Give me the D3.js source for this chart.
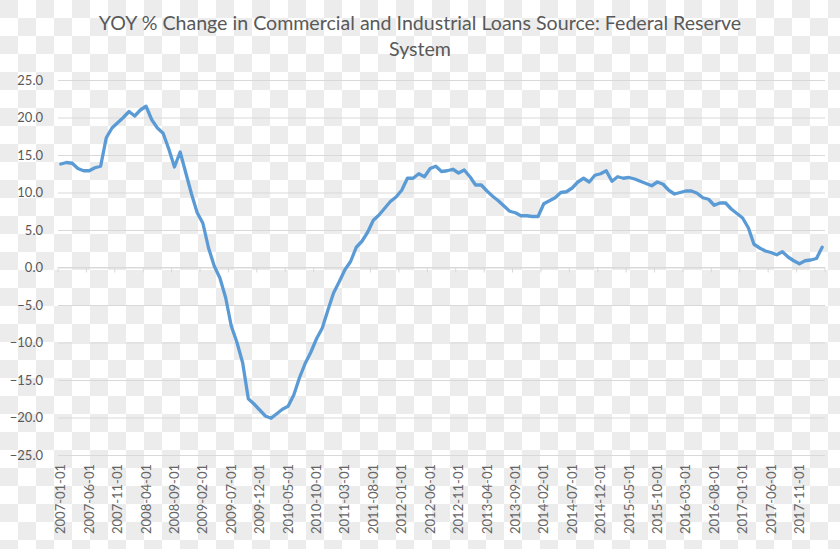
<!DOCTYPE html>
<html>
<head>
<meta charset="utf-8">
<script src="https://cdn.jsdelivr.net/npm/d3@7"></script>
<style>
  html, body { margin: 0; padding: 0; }
  body {
    width: 840px; height: 549px; overflow: hidden;
    background-color: #ffffff;
    background-image:
      linear-gradient(45deg, #ececec 25%, transparent 25%, transparent 75%, #ececec 75%),
      linear-gradient(45deg, #ececec 25%, transparent 25%, transparent 75%, #ececec 75%);
    background-size: 36px 36px;
    background-position: 18px 0, 0 18px;
  }
  svg { display: block; }
</style>
</head>
<body>
<div id="chart"></div>
<script>
// Chart text
const titleLines = ["YOY % Change in Commercial and Industrial Loans Source: Federal Reserve", "System"];

// Monthly categories, 2007-01 .. 2018-03
const firstMonth = "2007-01-01";
const lastMonth = "2018-03-01";

// YOY % change, one value per month
const loanGrowth = [
  13.8, 14.0, 13.9, 13.2, 12.9, 12.9, 13.3, 13.5, 17.3, 18.6, 19.3, 20.0,
  20.8, 20.2, 21.0, 21.5, 19.7, 18.6, 17.9, 15.8, 13.4, 15.4, 12.6, 9.8,
  7.3, 5.9, 2.6, 0.2, -1.4, -4.0, -7.8, -10.0, -12.7, -17.5, -18.2, -19.0,
  -19.8, -20.1, -19.5, -18.9, -18.5, -17.0, -14.7, -12.8, -11.3, -9.5, -8.1, -5.7,
  -3.4, -1.9, -0.3, 0.8, 2.7, 3.5, 4.7, 6.3, 7.0, 7.9, 8.8, 9.4,
  10.3, 11.9, 11.9, 12.5, 12.1, 13.2, 13.5, 12.8, 12.9, 13.1, 12.6, 13.0,
  12.1, 11.0, 11.0, 10.2, 9.5, 8.9, 8.2, 7.5, 7.3, 6.9, 6.9, 6.8,
  6.8, 8.5, 8.9, 9.3, 10.0, 10.1, 10.6, 11.4, 11.9, 11.4, 12.3, 12.5,
  12.9, 11.5, 12.1, 11.9, 12.0, 11.8, 11.5, 11.2, 10.9, 11.4, 11.1, 10.3,
  9.8, 10.0, 10.2, 10.2, 9.9, 9.3, 9.1, 8.3, 8.6, 8.6, 7.8, 7.2,
  6.6, 5.3, 3.1, 2.6, 2.2, 2.0, 1.7, 2.1, 1.4, 0.9, 0.5, 0.9,
  1.0, 1.2, 2.7
];

// Value axis ticks
const yTicks = [25, 20, 15, 10, 5, 0, -5, -10, -15, -20, -25];

const svgWidth = 840;
const svgHeight = 549;

const plot = { left: 58, right: 825, top: 80, bottom: 455 };
const labelEvery = 5;

const parseDay = d3.timeParse("%Y-%m-%d");
const fmtDay = d3.timeFormat("%Y-%m-%d");
const months = d3.timeMonth.range(parseDay(firstMonth), d3.timeMonth.offset(parseDay(lastMonth), 1)).map(fmtDay);

const data = months.map((m, i) => ({ month: m, value: loanGrowth[i] }));

const svg = d3.select("#chart")
    .append("svg")
    .attr("width", svgWidth)
    .attr("height", svgHeight);

// Scales
const x = d3.scaleBand()
    .domain(months)
    .range([plot.left, plot.right])
    .padding(0);

const y = d3.scaleLinear()
    .domain([-25, 25])
    .range([plot.bottom, plot.top]);

// Title
svg.append("g")
    .selectAll("text")
    .data(titleLines)
    .enter()
    .append("text")
    .attr("x", svgWidth / 2)
    .attr("y", (d, i) => 30 + i * 26)
    .attr("text-anchor", "middle")
    .attr("font-family", "Lato, sans-serif")
    .attr("font-size", "19.6px")
    .attr("fill", "#595959")
    .text(d => d);

// Horizontal gridlines + value labels
const yAxis = d3.axisLeft(y)
    .tickValues(yTicks)
    .tickSize(-(plot.right - plot.left))
    .tickPadding(15)
    .tickFormat(d3.format(".1f"));

const yg = svg.append("g")
    .attr("transform", `translate(${plot.left}, 0)`)
    .call(yAxis);

yg.select(".domain").remove();
yg.selectAll(".tick line")
    .attr("stroke", "#d9d9d9")
    .attr("stroke-width", 1);
yg.selectAll(".tick text")
    .attr("font-family", "Lato, sans-serif")
    .attr("font-size", "13px")
    .attr("fill", "#595959");

// Category axis line at zero with tick marks between groups of months
const tickMonths = months.filter((m, i) => i % labelEvery === 0);
const axisG = svg.append("g");

axisG.append("line")
    .attr("x1", plot.left)
    .attr("x2", plot.right)
    .attr("y1", y(0))
    .attr("y2", y(0))
    .attr("stroke", "#d9d9d9");

axisG.selectAll(".cat-tick")
    .data(tickMonths.concat([null]))
    .enter()
    .append("line")
    .attr("class", "cat-tick")
    .attr("x1", d => d === null ? plot.right : x(d))
    .attr("x2", d => d === null ? plot.right : x(d))
    .attr("y1", y(0))
    .attr("y2", y(0) + 5)
    .attr("stroke", "#d9d9d9");

// Category labels, rotated, at the bottom
svg.append("g")
    .selectAll("text")
    .data(tickMonths)
    .enter()
    .append("text")
    .attr("transform", d => `translate(${x(d) + x.bandwidth() / 2}, 464) rotate(-90)`)
    .attr("dy", "0.35em")
    .attr("text-anchor", "end")
    .attr("font-family", "Lato, sans-serif")
    .attr("font-size", "13px")
    .attr("fill", "#666666")
    .text(d => d);

// The line
const line = d3.line()
    .x(d => x(d.month) + x.bandwidth() / 2)
    .y(d => y(d.value));

svg.append("path")
    .datum(data)
    .attr("d", line)
    .attr("fill", "none")
    .attr("stroke", "#5b9bd5")
    .attr("stroke-width", 3.3)
    .attr("stroke-linejoin", "round")
    .attr("stroke-linecap", "round");
</script>
</body>
</html>
